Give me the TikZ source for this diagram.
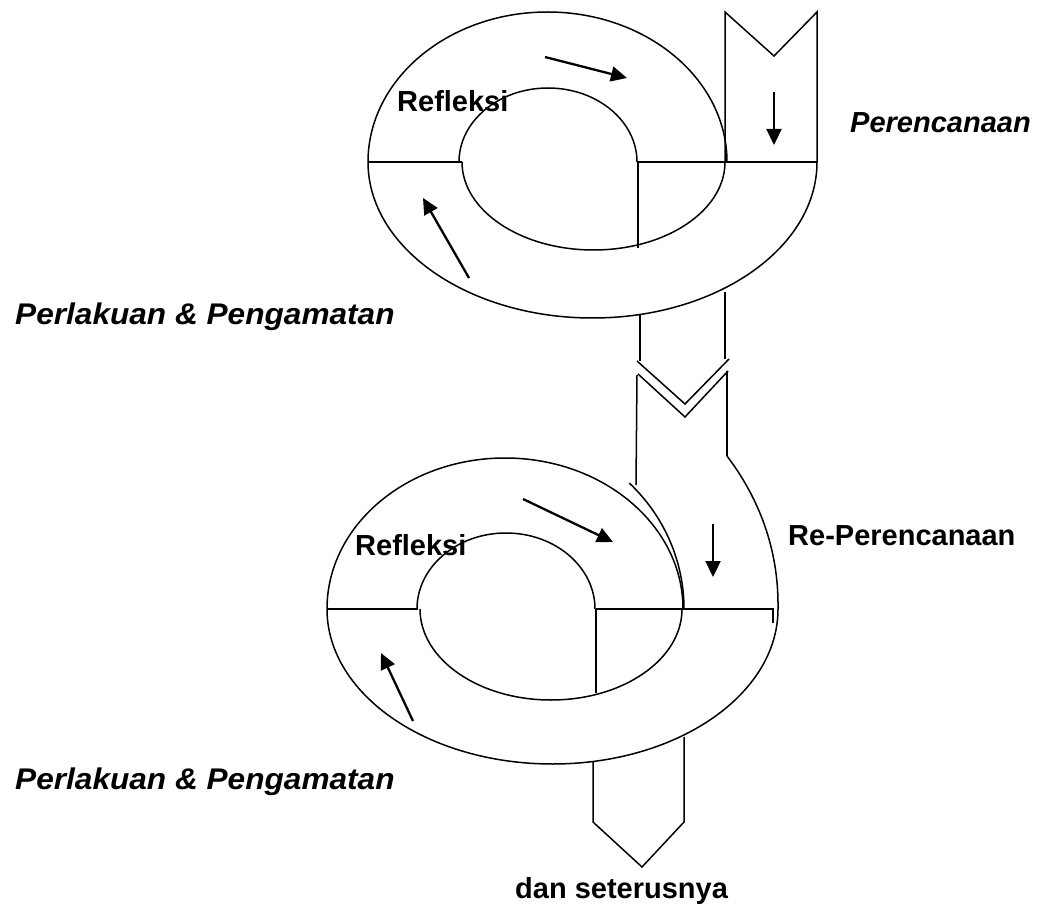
\documentclass[tikz,border=0pt]{standalone}
\usepackage{fontspec}
\setmainfont{Liberation Sans}
\usetikzlibrary{arrows.meta}
\begin{document}
\begin{tikzpicture}[x=1pt,y=-1pt,
  ln/.style={line width=1.5pt, line join=miter},
  arr/.style={line width=2.3pt, -{Triangle[length=16pt,width=15pt]}},
  lbl/.style={anchor=base west, inner sep=0pt, font=\fontsize{29}{34}\selectfont\bfseries},
  ilbl/.style={lbl, font=\fontsize{29}{34}\selectfont\bfseries\itshape}]
\useasboundingbox (0,0) rectangle (1039,909);
\fill[white] (0,0) rectangle (1039,909);

% ---------- top ring ----------
\draw[ln] (547.5,162) ++(180:179.5 and 150) arc[start angle=180, end angle=360, x radius=179.5, y radius=150];
\draw[ln] (548,162) ++(180:89 and 74) arc[start angle=180, end angle=360, x radius=89, y radius=74];
\draw[ln] (593.5,162) ++(180:131.5 and 88) arc[start angle=180, end angle=0, x radius=131.5, y radius=88];
\draw[ln] (592.5,162) ++(180:224.5 and 156) arc[start angle=180, end angle=0, x radius=224.5, y radius=156];
\draw[ln] (368,162) -- (462,162);
\draw[ln] (637,162) -- (817,162);
\draw[ln] (638,162) -- (638,248);
% planning band with notch
\draw[ln] (725,162) -- (725,12) -- (774,56) -- (817,12) -- (817,162);

% ---------- connector between rings ----------
\coordinate (cl1) at (640,314.5);
\coordinate (cr1) at (725,292);
\draw[ln] (cl1) -- (640,361);
\draw[ln] (cr1) -- (725,359);
\draw[ln] (637,361) -- (685,404) -- (729,359);
\draw[ln] (638,374) -- (685,417) -- (728,371);
\draw[ln] (637,375) -- (636,485);
\draw[ln] (727,371) -- (727,456);

% ---------- bottom ring ----------
\draw[ln] (505,609) ++(180:178 and 151) arc[start angle=180, end angle=360, x radius=178, y radius=151];
\draw[ln] (505,609) ++(314:179 and 175) arc[start angle=314, end angle=360, x radius=179, y radius=175];
\draw[ln] (506,609) ++(180:89 and 76) arc[start angle=180, end angle=360, x radius=89, y radius=76];
\draw[ln] (551,609) ++(180:131 and 91) arc[start angle=180, end angle=0, x radius=131, y radius=91];
\draw[ln] (727,456) .. controls (758,497) and (779,548) .. (778,609)
  arc[start angle=0, end angle=180, x radius=225.5, y radius=155];
\draw[ln] (327,609) -- (418,609);
\draw[ln] (596,609) -- (773,609) -- (773,623);
\draw[ln] (596,609) -- (596,693);

% ---------- bottom exit band ----------
\coordinate (bl) at (593,761.5);
\coordinate (br) at (684,737);
\draw[ln] (bl) -- (593,822) -- (642,867) -- (684,822) -- (br);

% ---------- arrows ----------
\draw[arr] (545,57) -- (627,78);
\draw[arr] (774,92) -- (774,145);
\draw[arr] (469,278) -- (423,198);
\draw[arr] (523,499) -- (613,542);
\draw[arr] (713,524) -- (713,577);
\draw[arr] (413,721) -- (381,653);

% ---------- labels ----------
\node[lbl]  (refl1)  at (397,112) {Refleksi};
\node[ilbl] (plan1)  at (850,133) {Perencanaan};
\node[ilbl] (act1)   at (15,325)  {\scalebox{1.09}[1.03]{Perlakuan \& Pengamatan}};
\node[lbl]  (refl2)  at (355,555) {Refleksi};
\node[lbl]  (replan) at (788,545) {Re-Perencanaan};
\node[ilbl] (act2)   at (15,789)  {\scalebox{1.09}[1.03]{Perlakuan \& Pengamatan}};
\node[lbl]  (next)   at (515,898) {dan seterusnya};
\end{tikzpicture}
\end{document}
